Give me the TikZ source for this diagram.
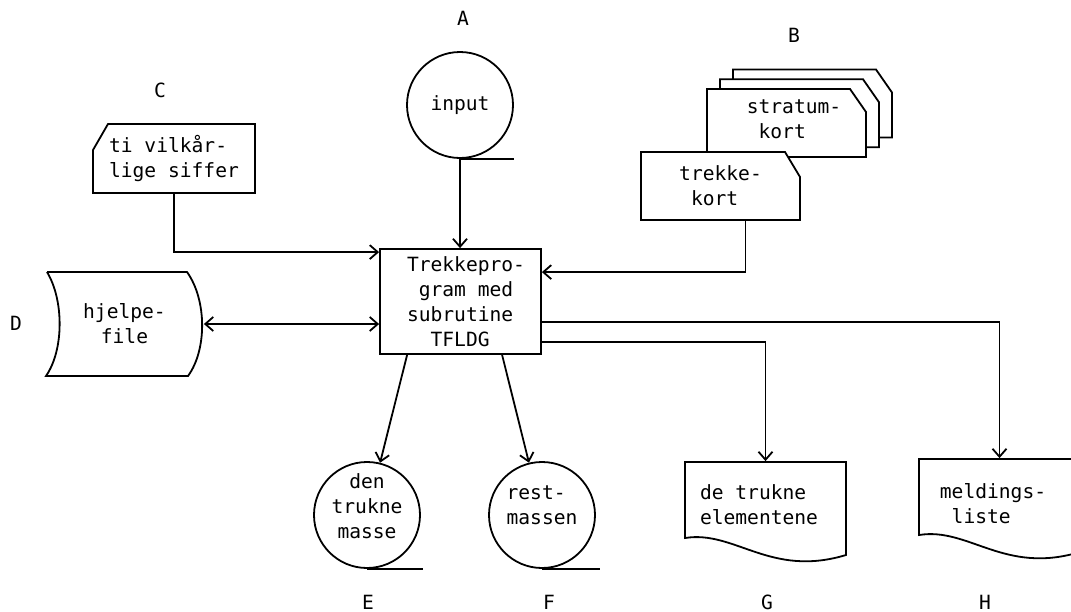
\documentclass[tikz,border=0pt]{standalone}
\usepackage{fontspec}
\setmainfont{DejaVu Sans Mono}
\usetikzlibrary{arrows.meta,calc}

\begin{document}
\begin{tikzpicture}[x=0.5pt,y=-0.5pt,>={Straight Barb[length=4pt,width=7pt]},
	line width=0.9pt,
	every node/.style={font=\fontsize{9.8}{12.5}\selectfont},
	tape/.style={draw,circle,minimum size=53pt,inner sep=0pt},
	box/.style={rectangle,inner sep=0pt,align=left}]
	\useasboundingbox (0,0) rectangle (1071,611);

	% letters
	\node (lA) at (463,18) {A};	\node (lB) at (794,35) {B};
	\node (lC) at (160,90) {C};	\node (lD) at (16,323) {D};
	\node (lE) at (368,602) {E};	\node (lF) at (549,602) {F};
	\node (lG) at (767,602) {G};	\node (lH) at (985,602) {H};

	% A
	\node[tape] (input) at (460,105) {input};
	\draw (input.south) -- ++(54,0);

	% C
	\draw (93,150) -- (108,124) -- (255,124) -- (255,193) -- (93,193) -- cycle;
	\node[box,minimum width=81pt,minimum height=34.5pt] (siffer) at (174,158.5) {ti vilkår-\\lige siffer};

	% B
	\foreach \s in {26,13,0}
		\draw[fill=white,shift={(\s,-0.75*\s)}] (707,89) -- (850,89) -- (866,112) -- (866,157) -- (707,157) -- cycle;
	\node[align=left] (stratum) at (794,119) {stratum-\\\hphantom{s}kort};
	\draw[fill=white] (641,152) -- (785,152) -- (800,177) -- (800,220) -- (641,220) -- cycle;
	\node[box,minimum width=79.5pt,minimum height=34pt] (trekke) at (720.5,186) {trekke-\\\hphantom{t}kort};

	% D
	\draw (47,272) -- (187,272) .. controls (207,300) and (207,350) .. (188,376) -- (46,376) .. controls (64,350) and (64,300) .. (47,272);
	\node[box,align=center,minimum width=78.5pt,minimum height=52pt] (hjelp) at (124.5,324) {hjelpe-\\file};

	\node[draw,box,minimum width=80.5pt,minimum height=52.5pt,
		label={[align=left,xshift=2.75pt]center:Trekkepro-\\\hphantom{T}gram med\\subrutine\\\hphantom{TF}TFLDG}] (prog) at (460.5,301.5) {};

	% E, F
	\node[tape,label={[align=center,yshift=4.5pt]center:den\\trukne\\masse}] (trukket) at (367,515) {};
	\draw (trukket.south) -- ++(56,0);
	\node[tape,label={[align=left,yshift=5pt]center:rest-\\massen}] (rest) at (542,515) {};
	\draw (rest.south) -- ++(58,0);

	% G, H
	\foreach \dx/\dy in {0/0,234/-3}
		\draw[shift={(\dx,\dy)}] (685,462) -- (846,462) -- (846,555) .. controls (770,578) and (735,530) .. (685,538) -- cycle;
	\node[box,minimum width=80.5pt,minimum height=42.5pt,
		label={[align=left,xshift=-3.25pt]center:de trukne\\elementene}] (trukne) at (765.5,504.5) {};
	\node[box,minimum width=80.5pt,minimum height=45pt,
		label={[align=left,xshift=-3.25pt]center:meldings-\\\hphantom{m}liste}] (melding) at (999.5,504) {};

	\draw[->] (input.south) -- (input.south |- prog.north);
	\draw[->] (siffer.south) |- ($(prog.north west)+(0,4)$);
	\draw[<->] (hjelp.east) -- (hjelp.east -| prog.west);
	\draw[->] ($(trekke.south)+(25,0)$) |- ($(prog.north east)+(0,24)$);
	\draw[->] ($(prog.south west)+(28,0)$) -- (trukket);
	\draw[->] ($(prog.south west)+(123,0)$) -- (rest);
	\draw[->] ($(prog.south east)+(0,-13)$) -| (trukne.north);
	\draw[->] ($(prog.south east)+(0,-33)$) -| (melding.north);

\end{tikzpicture}
\end{document}
